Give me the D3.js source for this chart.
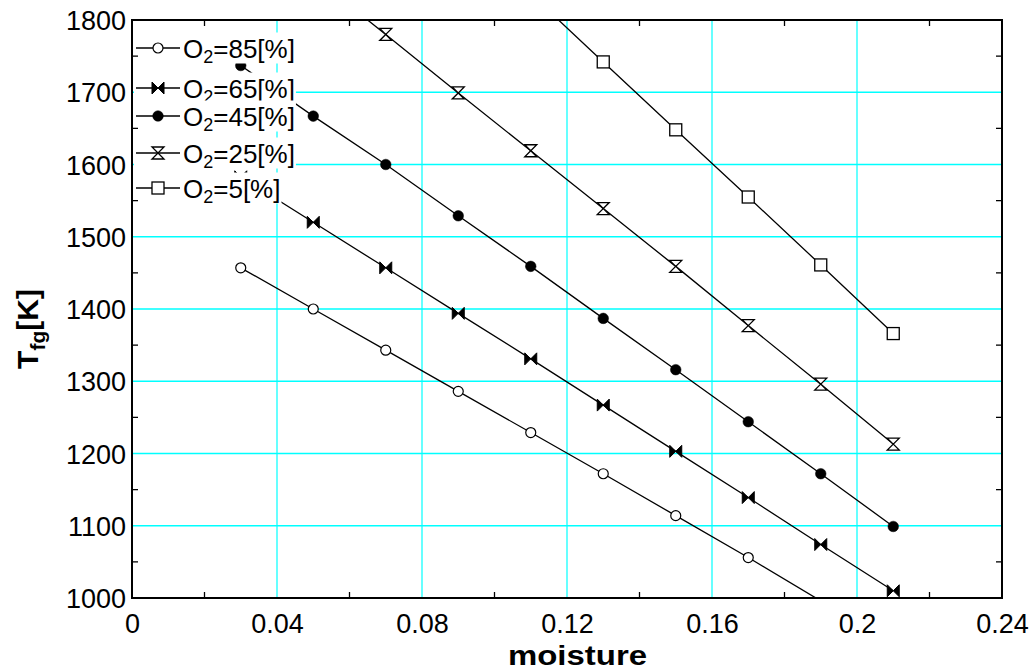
<!DOCTYPE html>
<html>
<head>
<meta charset="utf-8">
<script src="https://cdn.jsdelivr.net/npm/d3@7"></script>
<style>
  html, body { margin: 0; padding: 0; background: #fff; }
  svg { display: block; }
  text { font-family: "Liberation Sans", Arial, sans-serif; fill: #000; }
</style>
</head>
<body>
<svg id="chart" width="1033" height="671"></svg>
<script>
// ---- data ----
const moisture = [0.03, 0.05, 0.07, 0.09, 0.11, 0.13, 0.15, 0.17, 0.19, 0.21];
const o2_85 = [1457, 1400, 1343, 1286, 1229, 1172, 1114, 1056, 996, 939];
const o2_65 = [1583, 1520, 1457, 1394, 1331, 1267, 1203, 1139, 1074, 1010];
const o2_45 = [1737, 1667, 1600, 1529, 1459, 1387, 1316, 1244, 1172, 1099];
const o2_25 = [null, 1860, 1780, 1699, 1619, 1539, 1459, 1377, 1296, 1213];
const o2_5  = [null, null, null, null, 1836, 1742, 1648, 1555, 1461, 1366];
const seriesNames = ["85", "65", "45", "25", "5"];
const seriesMarkers = ["circleOpen", "bowtie", "circleFilled", "hourglass", "square"];
const xTicks = [0, 0.04, 0.08, 0.12, 0.16, 0.2, 0.24];
const xTickLabels = ["0", "0.04", "0.08", "0.12", "0.16", "0.2", "0.24"];
const yTicks = [1000, 1100, 1200, 1300, 1400, 1500, 1600, 1700, 1800];
const xMinorTicks = [0.02, 0.06, 0.1, 0.14, 0.18, 0.22];
const yMinorTicks = [1050, 1150, 1250, 1350, 1450, 1550, 1650, 1750];

const seriesValues = [o2_85, o2_65, o2_45, o2_25, o2_5];

// ---- layout ----
const svg = d3.select("#chart");
const L = 132, R = 1002, T = 20, B = 598;
const x = d3.scaleLinear().domain([0, 0.24]).range([L, R]);
const y = d3.scaleLinear().domain([1000, 1800]).range([B, T]);

svg.append("defs").append("clipPath").attr("id", "plotclip")
  .append("rect").attr("x", L).attr("y", T).attr("width", R - L).attr("height", B - T);

// grid
const grid = svg.append("g");
grid.selectAll("line.vg").data(xTicks.slice(1, -1)).join("line")
  .attr("x1", d => x(d)).attr("x2", d => x(d)).attr("y1", T).attr("y2", B)
  .attr("stroke", "#00ffff").attr("stroke-width", 1.2);
grid.selectAll("line.hg").data(yTicks.slice(1, -1)).join("line")
  .attr("x1", L).attr("x2", R).attr("y1", d => y(d)).attr("y2", d => y(d))
  .attr("stroke", "#00ffff").attr("stroke-width", 1.6);

// marker drawing
function drawMarker(g, type, cx, cy) {
  const s = 6;
  if (type === "circleOpen") {
    g.append("circle").attr("cx", cx).attr("cy", cy).attr("r", 5)
      .attr("fill", "#fff").attr("stroke", "#000").attr("stroke-width", 1.2);
  } else if (type === "circleFilled") {
    g.append("circle").attr("cx", cx).attr("cy", cy).attr("r", 5.3)
      .attr("fill", "#000").attr("stroke", "#000").attr("stroke-width", 0.5);
  } else if (type === "square") {
    g.append("rect").attr("x", cx - 6).attr("y", cy - 6).attr("width", 12).attr("height", 12)
      .attr("fill", "#fff").attr("stroke", "#000").attr("stroke-width", 1.3);
  } else if (type === "bowtie") {
    g.append("path")
      .attr("d", `M${cx - s},${cy - s}L${cx},${cy}L${cx - s},${cy + s}Z M${cx + s},${cy - s}L${cx},${cy}L${cx + s},${cy + s}Z`)
      .attr("fill", "#000").attr("stroke", "#000").attr("stroke-width", 1);
  } else if (type === "hourglass") {
    g.append("path")
      .attr("d", `M${cx - s},${cy - s}L${cx + s},${cy - s}L${cx},${cy}Z M${cx - s},${cy + s}L${cx + s},${cy + s}L${cx},${cy}Z`)
      .attr("fill", "#fff").attr("stroke", "#000").attr("stroke-width", 1.3);
  }
}

// lines
const plot = svg.append("g").attr("clip-path", "url(#plotclip)");
const lineGen = d3.line().defined(d => d[1] != null).x(d => x(d[0])).y(d => y(d[1]));
seriesValues.forEach((vals, i) => {
  const pts = moisture.map((m, k) => [m, vals[k]]);
  plot.append("path").datum(pts).attr("d", lineGen)
    .attr("fill", "none").attr("stroke", "#000").attr("stroke-width", 1.3);
});
seriesValues.forEach((vals, i) => {
  const mg = plot.append("g");
  moisture.forEach((m, k) => {
    const v = vals[k];
    if (v == null || v < 1000 || v > 1800) return;
    drawMarker(mg, seriesMarkers[i], x(m), y(v));
  });
});

// legend
const legRows = [48, 88, 116, 153, 188];
const leg = svg.append("g");
seriesNames.forEach((name, i) => {
  const cy = legRows[i];
  const g = leg.append("g");
  const bg = g.append("rect").attr("fill", "#fff");
  g.append("line").attr("x1", 136).attr("x2", 180).attr("y1", cy).attr("y2", cy)
    .attr("stroke", "#000").attr("stroke-width", 1.3);
  drawMarker(g, seriesMarkers[i], 158, cy);
  const t = g.append("text").attr("x", 183).attr("y", cy + 9.5).style("font-size", "26px");
  t.append("tspan").text("O");
  t.append("tspan").text("2").style("font-size", "18px").attr("dy", 5);
  t.append("tspan").text("=" + name + "[%]").attr("dy", -5);
  const bb = t.node().getBBox();
  bg.attr("x", 134).attr("y", cy - 15.5).attr("width", bb.x + bb.width - 134 + 1).attr("height", 31);
});

// frame
svg.append("rect").attr("x", L).attr("y", T).attr("width", R - L).attr("height", B - T)
  .attr("fill", "none").attr("stroke", "#000").attr("stroke-width", 2);

// minor ticks (inward), all four sides
const tk = svg.append("g").attr("stroke", "#000").attr("stroke-width", 1.3);
xMinorTicks.forEach(v => {
  tk.append("line").attr("x1", x(v)).attr("x2", x(v)).attr("y1", B).attr("y2", B - 6);
  tk.append("line").attr("x1", x(v)).attr("x2", x(v)).attr("y1", T).attr("y2", T + 6);
});
yMinorTicks.forEach(v => {
  tk.append("line").attr("x1", L).attr("x2", L + 6).attr("y1", y(v)).attr("y2", y(v));
  tk.append("line").attr("x1", R).attr("x2", R - 6).attr("y1", y(v)).attr("y2", y(v));
});

// axis tick labels via d3 axes (lines hidden)
const xAxis = d3.axisBottom(x).tickValues(xTicks).tickFormat((d, i) => xTickLabels[i]).tickSize(0).tickPadding(0);
const xg = svg.append("g").attr("transform", `translate(0,${B})`).call(xAxis);
xg.select(".domain").remove();
xg.selectAll("text").attr("y", 35).attr("dy", 0).style("font-size", "27px")
  .style("font-family", "'Liberation Sans', Arial, sans-serif").attr("fill", "#000");

const yAxis = d3.axisLeft(y).tickValues(yTicks).tickFormat(d3.format("d")).tickSize(0).tickPadding(0);
const yg = svg.append("g").attr("transform", `translate(${L},0)`).call(yAxis);
yg.select(".domain").remove();
yg.selectAll("text").attr("x", -6).attr("dy", "0.36em").style("font-size", "27px")
  .style("font-family", "'Liberation Sans', Arial, sans-serif").attr("fill", "#000");

// axis titles
svg.append("text").attr("x", 577.5).attr("y", 664.5).attr("text-anchor", "middle")
  .attr("textLength", 139).attr("lengthAdjust", "spacingAndGlyphs")
  .style("font-size", "28px").style("font-weight", "bold").text("moisture");

const yt = svg.append("text").attr("transform", "translate(38,329) rotate(-90)")
  .attr("text-anchor", "middle").style("font-weight", "bold");
yt.append("tspan").text("T").style("font-size", "30px");
yt.append("tspan").text("fg").style("font-size", "21px").attr("dy", 7);
yt.append("tspan").text("[K]").style("font-size", "30px").attr("dy", -7);
</script>
</body>
</html>
